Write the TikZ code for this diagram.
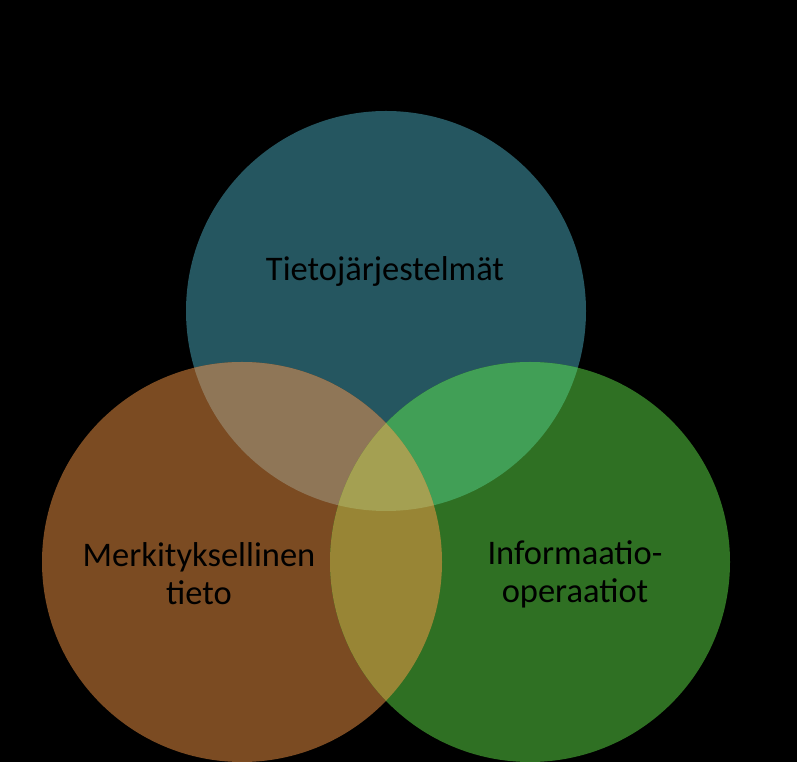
\documentclass[tikz,border=0pt]{standalone}
\usepackage{fontspec}
\setmainfont{Carlito}
\definecolor{cTop}{HTML}{255660}
\definecolor{cLeft}{HTML}{7B4B22}
\definecolor{cRight}{HTML}{2F7023}
\definecolor{cTL}{HTML}{8F7657}
\definecolor{cTR}{HTML}{419F56}
\definecolor{cLR}{HTML}{988535}
\definecolor{cAll}{HTML}{A4A052}
\tikzset{lbl/.style={text=black, font=\fontsize{34.5}{38}\selectfont, align=center, inner sep=0pt}}
\begin{document}
\begin{tikzpicture}[x=1pt,y=1pt]
\fill[black] (0,0) rectangle (797,762);
\useasboundingbox (0,0) rectangle (797,762);
\coordinate (T) at (386,451);
\coordinate (L) at (242,200);
\coordinate (R) at (530,200);
\def\rad{200}
\fill[cTop] (T) circle (\rad);
\fill[cLeft] (L) circle (\rad);
\fill[cRight] (R) circle (\rad);
\begin{scope}
  \clip (T) circle (\rad);
  \fill[cTL] (L) circle (\rad);
  \fill[cTR] (R) circle (\rad);
\end{scope}
\begin{scope}
  \clip (L) circle (\rad);
  \fill[cLR] (R) circle (\rad);
  \clip (R) circle (\rad);
  \fill[cAll] (T) circle (\rad);
\end{scope}
\node[lbl] (tT) at (385,491) {Tietojärjestelmät};
\node[lbl] (tL) at (199,188) {Merkityksellinen\\tieto};
\node[lbl] (tR) at (575,188) {Informaatio-\\operaatiot};
\end{tikzpicture}
\end{document}
